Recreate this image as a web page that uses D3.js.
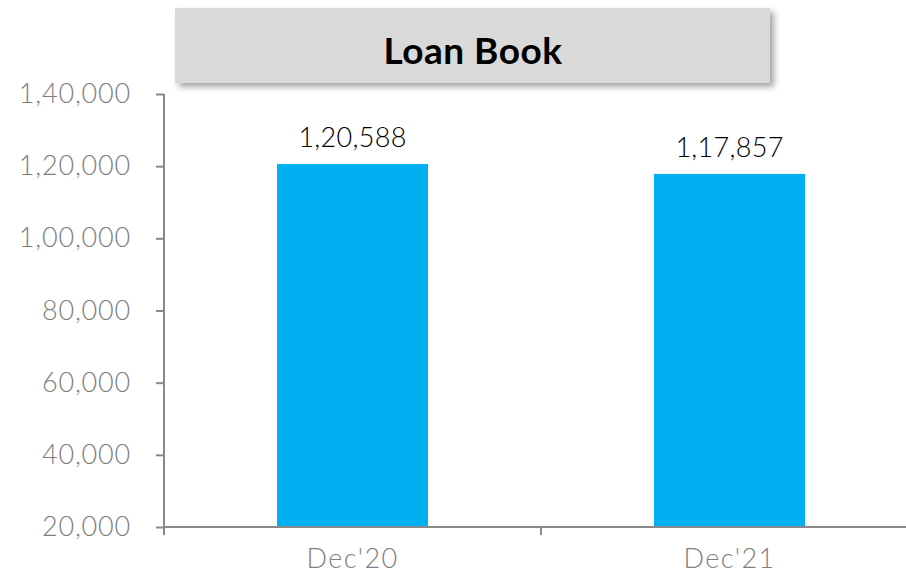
<!DOCTYPE html>
<html>
<head>
<meta charset="utf-8">
<script src="https://cdn.jsdelivr.net/npm/d3@7"></script>
<style>
  body { margin: 0; background: #fff; }
  svg { display: block; font-family: "Lato", "DejaVu Sans", sans-serif; }
  svg .tick text { font-family: "Lato", "DejaVu Sans", sans-serif; font-weight: 300; }
</style>
</head>
<body>
<svg id="chart" width="906" height="576"></svg>
<script>
const categories = ["Dec'20", "Dec'21"];
const values = [120588, 117857];
const yTicks = [20000, 40000, 60000, 80000, 100000, 120000, 140000];
const chartTitle = "Loan Book";

// indian grouping: 1,20,588
function inr(n) {
    let s = String(Math.round(n));
    if (s.length <= 3) return s;
    let last3 = s.slice(-3);
    let rest = s.slice(0, -3).replace(/\B(?=(\d{2})+(?!\d))/g, ',');
    return rest + ',' + last3;
}

const margin = {top: 94, left: 164, bottom: 49};
const width = 754;
const height = 576 - margin.top - margin.bottom;

const svg = d3.select('#chart');

const defs = svg.append('defs');
const f = defs.append('filter').attr('id', 'shadow')
    .attr('x', '-5%').attr('y', '-20%').attr('width', '115%').attr('height', '160%');
f.append('feDropShadow')
    .attr('dx', 4).attr('dy', 4).attr('stdDeviation', 3)
    .attr('flood-color', '#000').attr('flood-opacity', 0.35);

// title box
svg.append('rect')
    .attr('x', 175).attr('y', 8)
    .attr('width', 595).attr('height', 75)
    .attr('fill', '#d9d9d9')
    .attr('filter', 'url(#shadow)');

svg.append('text')
    .attr('x', 473).attr('y', 49)
    .attr('text-anchor', 'middle')
    .attr('dominant-baseline', 'central')
    .style('font-size', '37px')
    .style('font-weight', 'bold')
    .style('letter-spacing', '0.5px')
    .attr('fill', '#000')
    .text(chartTitle);

const chart = svg.append('g')
    .attr('transform', `translate(${margin.left}, ${margin.top})`);

const yScale = d3.scaleLinear()
    .domain([20000, 140000])
    .range([height, 0]);

const xScale = d3.scaleBand()
    .domain(categories)
    .range([0, width])
    .paddingInner(0)
    .paddingOuter(0);

const barW = 151;

chart.selectAll('.bar')
    .data(categories)
    .enter()
    .append('rect')
    .attr('class', 'bar')
    .attr('x', d => xScale(d) + xScale.bandwidth() / 2 - barW / 2)
    .attr('y', (d, i) => yScale(values[i]))
    .attr('width', barW)
    .attr('height', (d, i) => height - yScale(values[i]))
    .attr('fill', '#00b0f0');

chart.selectAll('.val')
    .data(categories)
    .enter()
    .append('text')
    .attr('class', 'val')
    .attr('x', d => xScale(d) + xScale.bandwidth() / 2)
    .attr('y', (d, i) => yScale(values[i]) - 17)
    .attr('text-anchor', 'middle')
    .style('font-size', '27px')
    .style('font-weight', 300)
    .style('letter-spacing', '0.3px')
    .attr('fill', '#000')
    .text((d, i) => inr(values[i]));

// y axis
const yAxis = chart.append('g')
    .call(d3.axisLeft(yScale).tickValues(yTicks).tickSize(8).tickPadding(25).tickFormat(inr));
yAxis.select('.domain').attr('d', `M0,0V${height + 8}`);
yAxis.selectAll('line, path').attr('stroke', '#898989').attr('stroke-width', 2);
yAxis.selectAll('text').attr('fill', '#7f7f7f').style('font-size', '27px').style('letter-spacing', '0.8px');

// x axis
const xAxis = chart.append('g')
    .attr('transform', `translate(0, ${height})`)
    .call(d3.axisBottom(xScale).tickSize(0).tickPadding(22));
xAxis.select('.domain').attr('d', `M0,0H${width}`);
xAxis.selectAll('path').attr('stroke', '#898989').attr('stroke-width', 2);
xAxis.selectAll('text').attr('fill', '#7f7f7f').style('font-size', '27px').style('letter-spacing', '1.4px');

// category boundary ticks
const bounds = categories.slice(1).map(d => xScale(d));
chart.append('g')
    .selectAll('line')
    .data(bounds)
    .enter()
    .append('line')
    .attr('x1', d => d).attr('x2', d => d)
    .attr('y1', height).attr('y2', height + 8)
    .attr('stroke', '#898989').attr('stroke-width', 2);
</script>
</body>
</html>
